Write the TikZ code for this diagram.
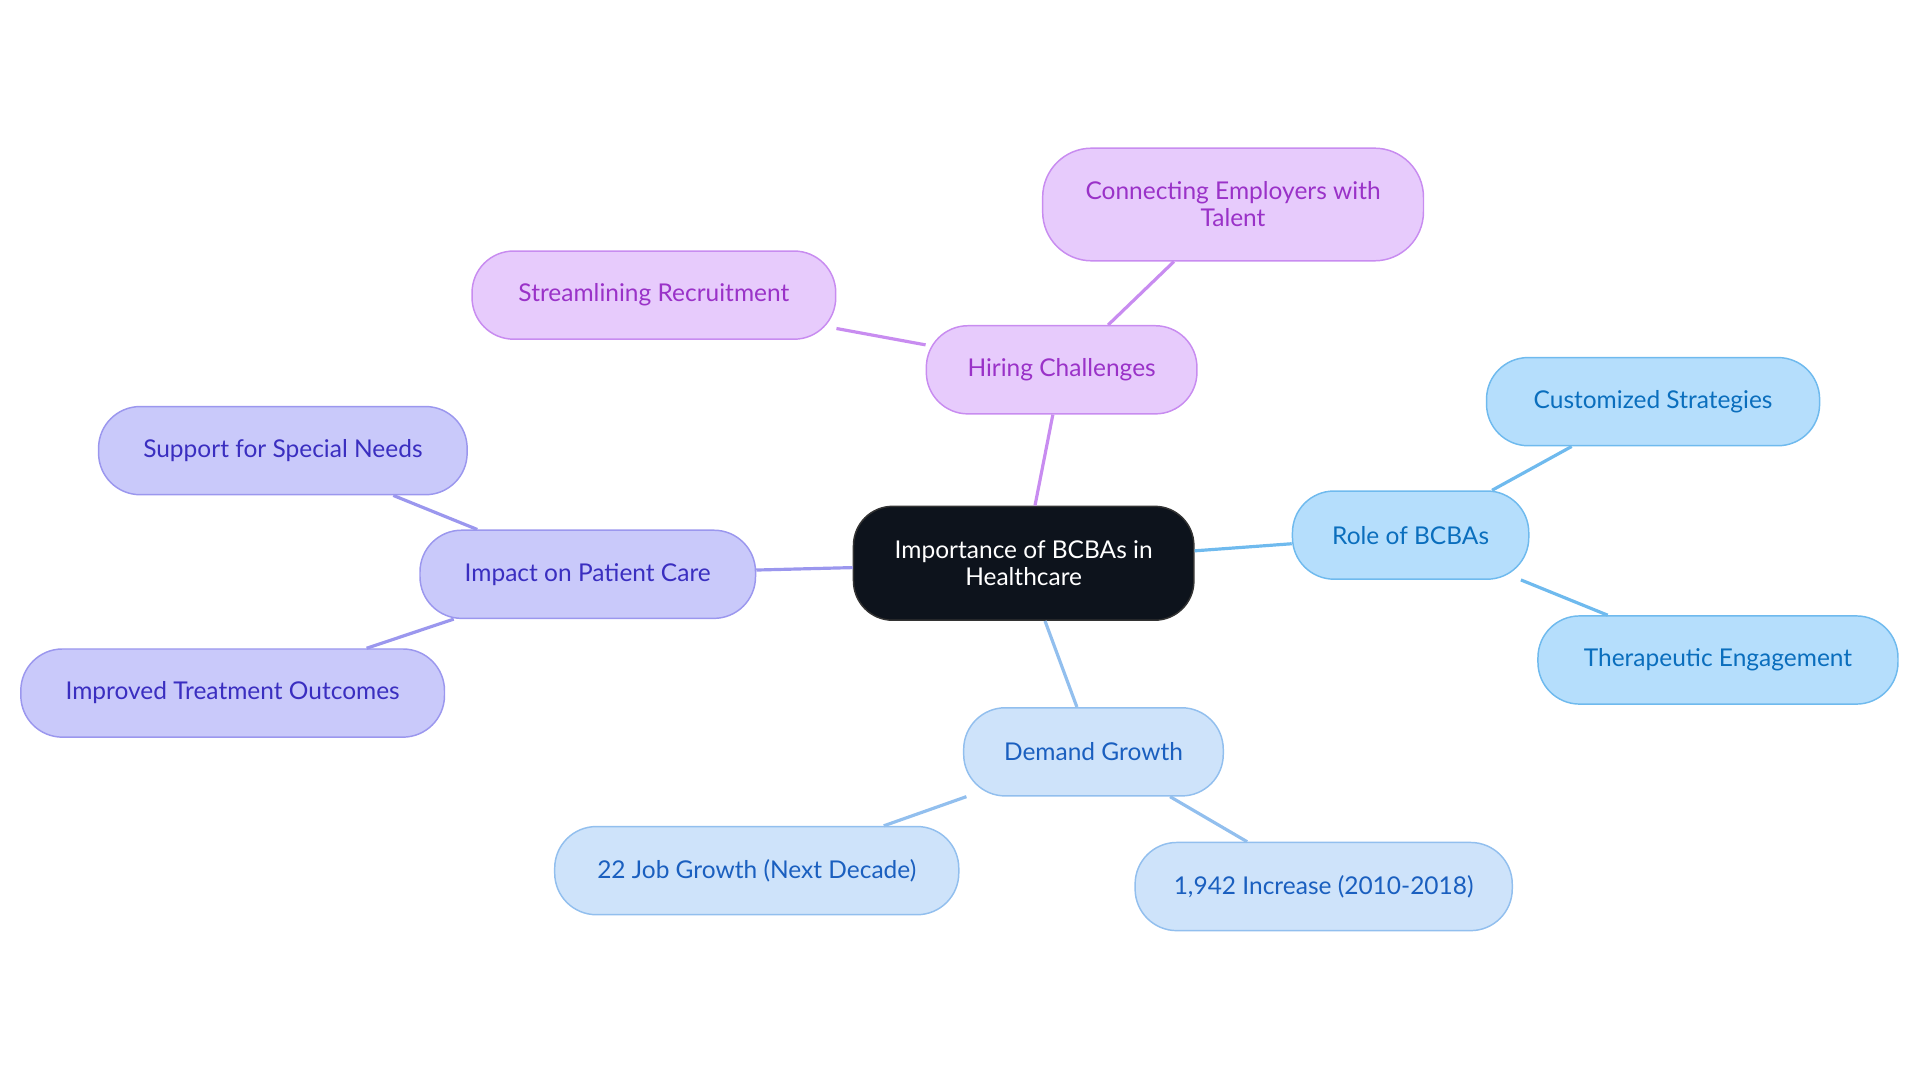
\documentclass[tikz,border=0pt]{standalone}
\usepackage{fontspec}
\setmainfont{Lato}
\definecolor{pF}{HTML}{E7CBFC}\definecolor{pD}{HTML}{C88CF0}\definecolor{pT}{HTML}{9A32C8}
\definecolor{bF}{HTML}{B5DEFC}\definecolor{bD}{HTML}{6FBAEE}\definecolor{bT}{HTML}{0A6EBD}
\definecolor{dF}{HTML}{CEE3FA}\definecolor{dD}{HTML}{92BFEE}\definecolor{dT}{HTML}{1A5FBF}
\definecolor{iF}{HTML}{C9C9FA}\definecolor{iD}{HTML}{9B97EE}\definecolor{iT}{HTML}{3A2EC0}
\definecolor{cF}{HTML}{0D131C}
\tikzset{
 box/.style={rounded corners=17pt,minimum height=36pt,align=center,font=\fontsize{10}{11}\selectfont,inner sep=2pt,line width=0.6pt},
 pbox/.style={box,fill=pF,draw=pD,text=pT},
 bbox/.style={box,fill=bF,draw=bD,text=bT},
 dbox/.style={box,fill=dF,draw=dD,text=dT},
 ibox/.style={box,fill=iF,draw=iD,text=iT},
 edge/.style={line width=1.3pt},
}
\begin{document}
\begin{tikzpicture}[x=0.5pt,y=-0.5pt]
\useasboundingbox (0,0) rectangle (1568,884);
\node[box,fill=cF,draw=black!80,text=white,minimum width=139pt,minimum height=46.5pt,rounded corners=16pt] (c) at (836,460) {Importance of BCBAs in\\Healthcare};
\node[pbox,minimum width=110.5pt] (h) at (867,302) {Hiring Challenges};
\node[pbox,minimum width=155.5pt,minimum height=46pt,rounded corners=20pt] (h1) at (1007,167) {Connecting Employers with\\Talent};
\node[pbox,minimum width=148.5pt] (h2) at (534,241) {Streamlining Recruitment};
\node[bbox,minimum width=96.5pt] (r) at (1152,437) {Role of BCBAs};
\node[bbox,minimum width=136pt] (r1) at (1350,328) {Customized Strategies};
\node[bbox,minimum width=147pt] (r2) at (1403,539) {Therapeutic Engagement};
\node[dbox,minimum width=106pt] (d) at (893,614) {Demand Growth};
\node[dbox,minimum width=165pt] (d1) at (618,711) {22 Job Growth (Next Decade)};
\node[dbox,minimum width=154pt] (d2) at (1081,724) {1,942 Increase (2010-2018)};
\node[ibox,minimum width=137pt] (i) at (480,469) {Impact on Patient Care};
\node[ibox,minimum width=150.5pt] (i1) at (231,368) {Support for Special Needs};
\node[ibox,minimum width=173pt] (i2) at (190,566) {Improved Treatment Outcomes};
\draw[edge,pD] (c) -- (h); \draw[edge,pD] (h) -- (h1); \draw[edge,pD] (h) -- (h2);
\draw[edge,bD] (c) -- (r); \draw[edge,bD] (r) -- (r1); \draw[edge,bD] (r) -- (r2);
\draw[edge,dD] (c) -- (d); \draw[edge,dD] (d) -- (d1); \draw[edge,dD] (d) -- (d2);
\draw[edge,iD] (c) -- (i); \draw[edge,iD] (i) -- (i1); \draw[edge,iD] (i) -- (i2);
\end{tikzpicture}
\end{document}
